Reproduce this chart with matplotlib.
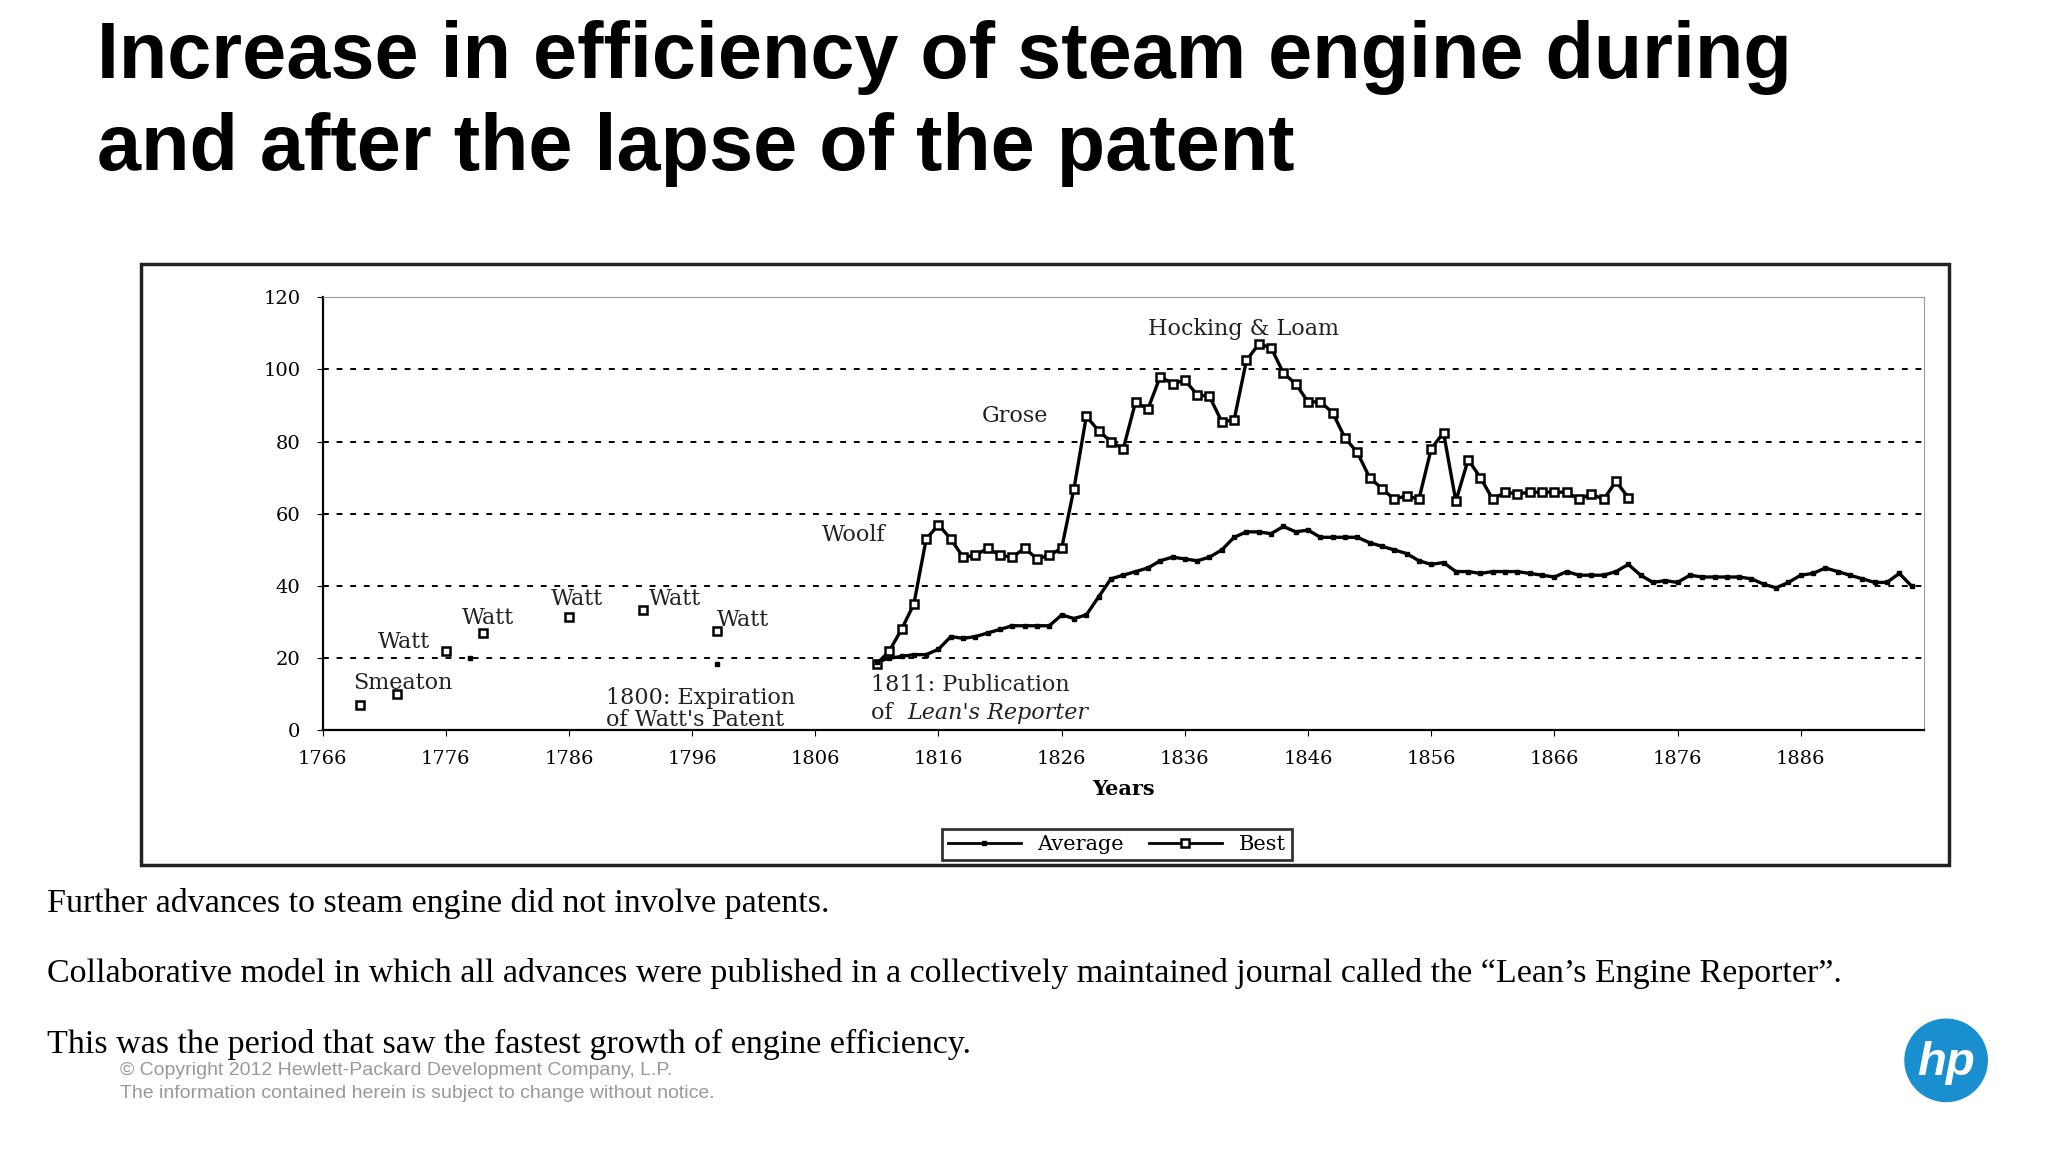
import matplotlib.pyplot as plt
from matplotlib.patches import Rectangle, Circle
from matplotlib.lines import Line2D

# Best engine duty, 1811-1872
best_years = list(range(1811, 1873))
best_vals = [18.5, 22, 28, 35, 53, 57, 53, 48, 48.5, 50.5, 48.5, 48, 50.5, 47.5, 48.5, 50.5,
             67, 87, 83, 80, 78, 91, 89, 98, 96, 97, 93, 92.5, 85.5, 86, 102.5, 107, 106, 99,
             96, 91, 91, 88, 81, 77, 70, 67, 64, 65, 64, 78, 82.5, 63.5, 75, 70, 64, 66, 65.5,
             66, 66, 66, 66, 64, 65.5, 64, 69, 64.5]
# Average engine duty, 1811-1895
avg_years = list(range(1811, 1896))
avg_vals = [19, 20, 20.5, 21, 21, 22.5, 26, 25.5, 26, 27, 28, 29, 29, 29, 29, 32, 31, 32, 37,
            42, 43, 44, 45, 47, 48, 47.5, 47, 48, 50, 53.5, 55, 55, 54.5, 56.5, 55, 55.5, 53.5,
            53.5, 53.5, 53.5, 52, 51, 50, 49, 47, 46, 46.5, 44, 44, 43.5, 44, 44, 44, 43.5, 43,
            42.5, 44, 43, 43, 43, 44, 46, 43, 41, 41.5, 41, 43, 42.5, 42.5, 42.5, 42.5, 42,
            40.5, 39.5, 41, 43, 43.5, 45, 44, 43, 42, 41, 41, 43.5, 40]
# early isolated engines
early_best_years = [1769, 1772, 1776, 1779, 1786, 1792, 1798]
early_best_vals = [7, 10, 22, 27, 31.5, 33.5, 27.5]
early_avg_years = [1778, 1798]
early_avg_vals = [20, 18.5]

W, H = 1568, 880
fig = plt.figure(figsize=(20.48, 11.52), dpi=100)

fig.text(74 / W, 1 - 79 / H, "Increase in efficiency of steam engine during\nand after the lapse of the patent",
         family="Liberation Sans", weight="bold", fontsize=57, va="center", ha="left", linespacing=1.3)

fig.patches.append(Rectangle((108 / W, 1 - 661 / H), (1492 - 108) / W, (661 - 202) / H,
                             transform=fig.transFigure, fill=False, lw=2.5, ec="#222222"))

ax = fig.add_axes([247 / W, 1 - 558 / H, (1473 - 247) / W, (558 - 227) / H])
serif = "DejaVu Serif"
ax.plot(best_years, best_vals, color="black", lw=2.4, marker="s", ms=6, mfc="white", mec="black", mew=1.8)
ax.plot(avg_years, avg_vals, color="black", lw=2.4, marker="s", ms=2.5)
ax.plot(early_best_years, early_best_vals, ls="none", marker="s", ms=6, mfc="white", mec="black", mew=1.8)
ax.plot(early_avg_years, early_avg_vals, ls="none", marker="s", ms=3, color="black")

ax.set_xlim(1766, 1896)
ax.set_ylim(0, 120)
ax.set_xticks(range(1766, 1896, 10))
ax.set_yticks(range(0, 121, 20))
for y in range(20, 101, 20):
    ax.axhline(y, color="black", ls=(0, (3, 4)), lw=1.4, zorder=0)
ax.tick_params(labelsize=14, length=4)
ax.tick_params(axis="x", pad=10)
ax.tick_params(axis="y", pad=12)
for lab in ax.get_xticklabels() + ax.get_yticklabels():
    lab.set_family(serif)
ax.spines["top"].set_color("#999999")
ax.spines["right"].set_color("#999999")
ax.spines["left"].set_linewidth(1.6)
ax.spines["bottom"].set_linewidth(1.6)
ax.set_xlabel("Years", family=serif, weight="bold", fontsize=15, labelpad=8)

fs = 16
notes = [(1768.5, 10, "Smeaton"), (1770.5, 21.5, "Watt"), (1777.3, 28, "Watt"), (1784.5, 33.5, "Watt"),
         (1792.5, 33.5, "Watt"), (1798, 27.5, "Watt"), (1806.5, 51, "Woolf"), (1819.5, 84, "Grose"),
         (1833, 108, "Hocking & Loam")]
for x, y, s in notes:
    ax.text(x, y, s, family=serif, fontsize=fs, va="bottom", ha="left", color="#222222")
ax.text(1789, 6, "1800: Expiration\nof Watt's Patent", family=serif, fontsize=fs, ha="left", va="center",
        color="#222222", linespacing=1.0)
ax.text(1810.5, 12.5, "1811: Publication", family=serif, fontsize=fs, ha="left", va="center", color="#222222")
ax.text(1810.5, 8, "of ", family=serif, fontsize=fs, ha="left", va="top", color="#222222")
ax.text(1813.5, 8, "Lean's Reporter", family=serif, fontsize=fs, style="italic", ha="left", va="top",
        color="#222222")

handles = [Line2D([], [], color="black", lw=2, marker="s", ms=3),
           Line2D([], [], color="black", lw=2, marker="s", ms=6, mfc="white", mew=1.8)]
fig.legend(handles, ["Average", "Best"], loc="center", bbox_to_anchor=(855 / W, 1 - 645 / H), ncol=2,
           prop={"family": serif, "size": 15}, frameon=True, fancybox=False, edgecolor="black",
           borderpad=0.3, handlelength=3.5, columnspacing=1.2).get_frame().set_linewidth(2)

body = ["Further advances to steam engine did not involve patents.",
        "Collaborative model in which all advances were published in a collectively maintained journal called the \u201cLean\u2019s Engine Reporter\u201d.",
        "This was the period that saw the fastest growth of engine efficiency."]
for i, s in enumerate(body):
    fig.text(36 / W, 1 - (690 + 54 * i) / H, s, family="Liberation Serif", fontsize=24.5, va="center")
fig.text(92 / W, 1 - 818 / H, "\u00a9 Copyright 2012 Hewlett-Packard Development Company, L.P.",
         family="Liberation Sans", fontsize=14, color="#999999", va="center")
fig.text(92 / W, 1 - 835 / H, "The information contained herein is subject to change without notice.",
         family="Liberation Sans", fontsize=14, color="#999999", va="center")

# hp logo
lx = fig.add_axes([1455 / W, 1 - 845 / H, 70 / W, 70 / H])
lx.set_xlim(-1, 1)
lx.set_ylim(-1, 1)
lx.set_aspect("equal")
lx.axis("off")
lx.add_patch(Circle((0, 0), 0.9, color="#1a8fd0"))
lx.text(0, -0.05, "hp", color="white", fontsize=34, style="italic", weight="bold",
        family="Liberation Sans", ha="center", va="center")

fig.savefig("out.png", dpi=100)
